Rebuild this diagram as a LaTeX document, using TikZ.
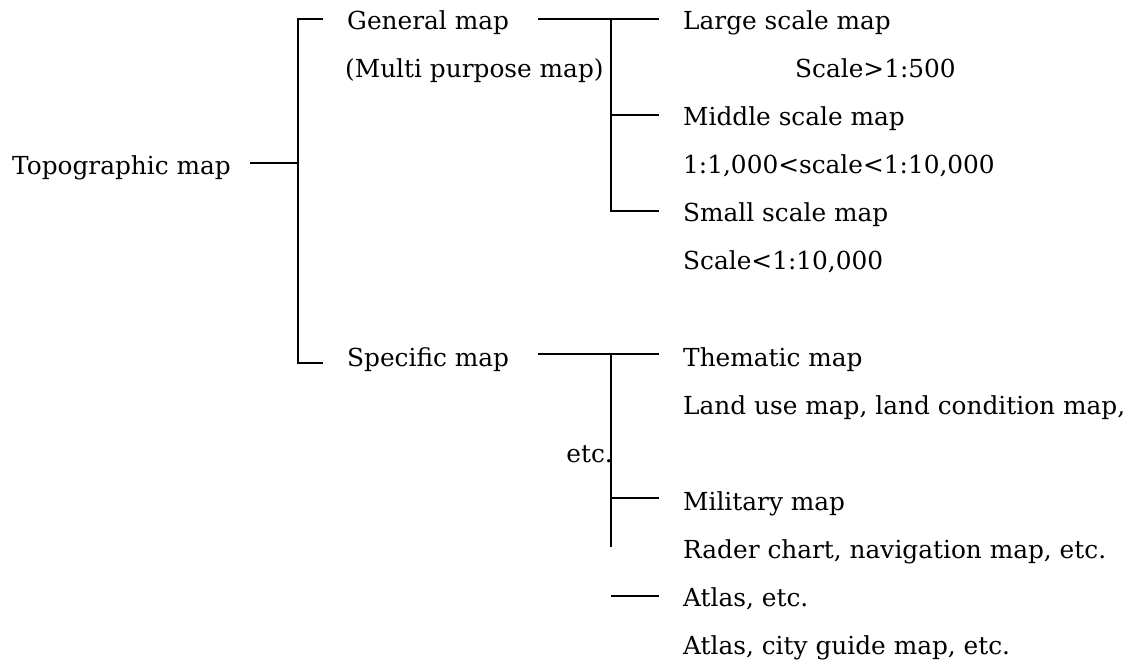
\documentclass[tikz,border=0pt]{standalone}
\usepackage{fontspec}
\setmainfont{DejaVu Serif}
\begin{document}
\begin{tikzpicture}[x=1pt,y=-1pt,
  lbl/.style={anchor=base west,inner sep=0pt,font=\fontsize{24.8}{30}\selectfont},
  lblr/.style={anchor=base east,inner sep=0pt,font=\fontsize{24.8}{30}\selectfont},
  wire/.style={line width=1.7pt,line cap=butt}]
\useasboundingbox (0,0) rectangle (1148,660);

% labels
\node[lbl] (topo) at (12,175) {Topographic map};
\node[lbl] (gen) at (347,30) {General map};
\node[lbl] (multi) at (345,78) {(Multi purpose map)};
\node[lbl] (large) at (683,30) {Large scale map};
\node[lbl] (largeS) at (795,78) {Scale>1:500};
\node[lbl] (mid) at (683,126) {Middle scale map};
\node[lbl] (midS) at (683,174) {1:1,000<scale<1:10,000};
\node[lbl] (small) at (683,222) {Small scale map};
\node[lbl] (smallS) at (683,270) {Scale<1:10,000};
\node[lbl] (spec) at (347,366) {Specific map};
\node[lbl] (them) at (683,366) {Thematic map};
\node[lbl] (themS) at (683,414) {Land use map, land condition map,};
\node[lblr] (etc) at (613,462) {etc.};
\node[lbl] (mil) at (683,510) {Military map};
\node[lbl] (milS) at (683,558) {Rader chart, navigation map, etc.};
\node[lbl] (atlas) at (683,606) {Atlas, etc.};
\node[lbl] (atlasS) at (683,654) {Atlas, city guide map, etc.};

% junction points
\coordinate (topoEnd) at (250,163);
\coordinate (trunkMid) at (298,163);
\coordinate (trunkTop) at (298,19);
\coordinate (trunkBot) at (298,363);
\coordinate (genTick) at (323,19);
\coordinate (specTick) at (323,363);

\coordinate (genStart) at (538,19);
\coordinate (genJ) at (611,19);
\coordinate (genEnd) at (659,19);
\coordinate (midJ) at (611,115);
\coordinate (midEnd) at (659,115);
\coordinate (smallJ) at (611,211);
\coordinate (smallEnd) at (659,211);

\coordinate (specStart) at (538,354);
\coordinate (specJ) at (611,354);
\coordinate (specEnd) at (659,354);
\coordinate (milJ) at (611,498);
\coordinate (milEnd) at (659,498);
\coordinate (specBot) at (611,547);
\coordinate (atlasStart) at (611,596);
\coordinate (atlasEnd) at (659,596);

% first level
\draw[wire] (topoEnd) -- (trunkMid);
\draw[wire] (genTick) -- (trunkTop) -- (trunkBot) -- (specTick);

% general map branches
\draw[wire] (genStart) -- (genEnd);
\draw[wire] (genJ) -- (smallJ) -- (smallEnd);
\draw[wire] (midJ) -- (midEnd);

% specific map branches
\draw[wire] (specStart) -- (specEnd);
\draw[wire] (specJ) -- (specBot);
\draw[wire] (milJ) -- (milEnd);
\draw[wire] (atlasStart) -- (atlasEnd);
\end{tikzpicture}
\end{document}
